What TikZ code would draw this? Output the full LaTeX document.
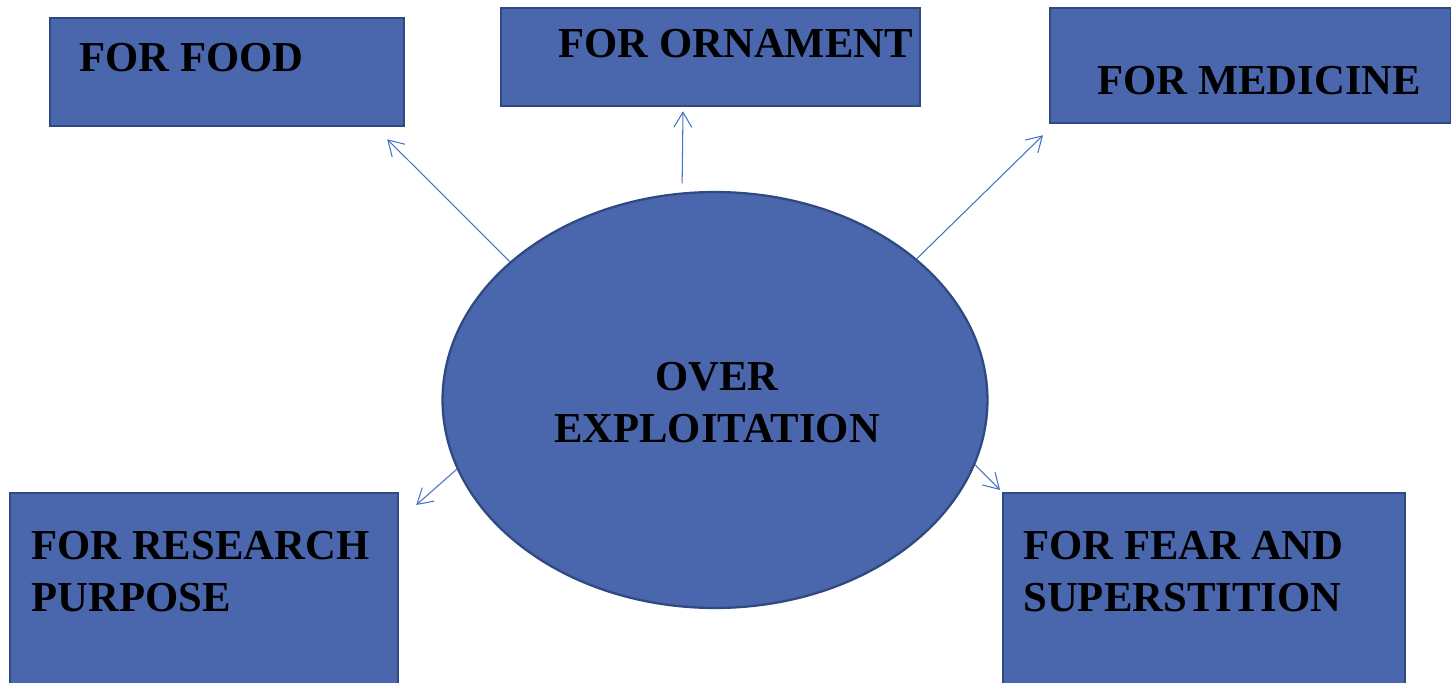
\documentclass[tikz,border=0pt]{standalone}
\usepackage{fontspec}
\setmainfont{Liberation Serif}
\usetikzlibrary{shapes, arrows, positioning, calc}
\usetikzlibrary{arrows.meta}

\definecolor{boxfill}{RGB}{74,102,172}
\definecolor{boxline}{RGB}{47,74,128}
\definecolor{arrowblue}{RGB}{68,114,196}

\begin{document}
\begin{tikzpicture}[x=0.02cm, y=-0.02cm,
  box/.style={draw=boxline, fill=boxfill, line width=1.3pt, anchor=north west, inner sep=0pt},
  txt/.style={font=\fontsize{24.3}{29.5}\selectfont\bfseries, anchor=base west, inner sep=0pt, align=left},
  arr/.style={draw=arrowblue, line width=0.6pt, -{Straight Barb[length=3mm, width=3.6mm]}}]
\useasboundingbox (0,0) rectangle (1451,683);

% Boxes
\node[box, minimum width=7.08cm, minimum height=2.16cm] (food) at (49,17) {};
\node[box, minimum width=8.38cm, minimum height=1.96cm] (orn) at (500,7) {};
\node[box, minimum width=8.02cm, minimum height=2.30cm] (med) at (1049,7) {};
\node[box, minimum width=7.76cm, minimum height=4cm] (res) at (9,492) {};
\node[box, minimum width=8.04cm, minimum height=4cm] (fear) at (1002,492) {};

% Box texts (two-line ones sit on their last line)
\node[txt] (foodtxt) at (79,71) {FOR FOOD};
\node[txt] (orntxt) at (558,57) {FOR ORNAMENT};
\node[txt] (medtxt) at (1097,94) {FOR MEDICINE};
\node[txt] (restxt) at (31,611) {FOR RESEARCH\\PURPOSE};
\node[txt] (feartxt) at (1023,611) {FOR FEAR AND\\SUPERSTITION};

% Centre
\node[ellipse, draw=boxline, fill=boxfill, line width=1.3pt, inner sep=0pt,
      minimum width=10.9cm, minimum height=8.32cm] (ell) at (715,400) {};
\node[txt, anchor=base, align=center] (elltxt) at (717,442) {OVER\\EXPLOITATION};

% Arrows
\draw[arr] (ell.146) -- ($(food.south east)+(-18,12)$);
\draw[arr] ($(ell.99)+(0,-9)$) -- ($(orn.south west)+(183,4)$);
\draw[arr] (ell.35) -- ($(med.south west)+(-6,11)$);
\draw[arr] (ell.195) -- ($(res.north east)+(17,13)$);
\draw[arr] (ell.346) -- ($(fear.north west)+(-2,-2)$);

\end{tikzpicture}
\end{document}
